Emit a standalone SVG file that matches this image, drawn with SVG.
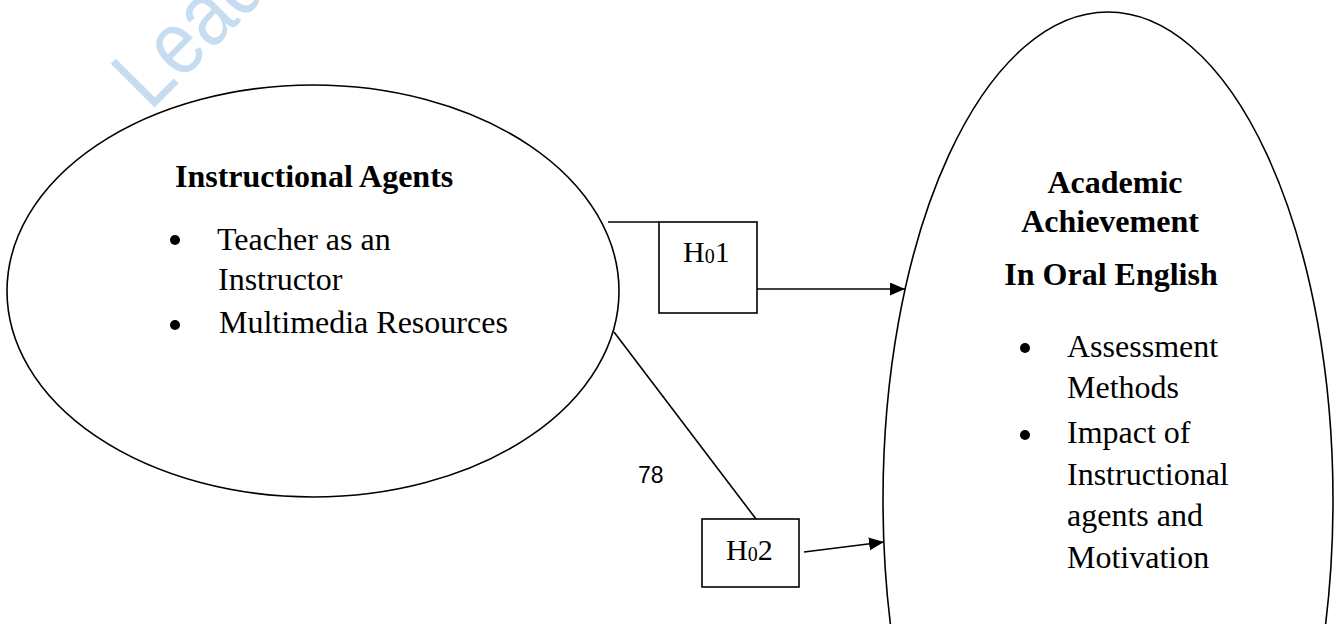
<svg xmlns="http://www.w3.org/2000/svg" width="1343" height="624" viewBox="0 0 1343 624">
<style>
  .shape { fill: none; stroke: #000; stroke-width: 1.6; }
  .box { fill: #fff; stroke: #000; stroke-width: 1.6; }
  .conn { fill: none; stroke: #000; stroke-width: 1.6; }
  .t { font-family: "Liberation Serif", "Times New Roman", serif; font-size: 32px; fill: #000; }
  .b { font-weight: bold; }
  .h { font-family: "Liberation Serif", "Times New Roman", serif; font-size: 30px; fill: #000; }
  .num { font-family: "Liberation Sans", Arial, sans-serif; font-size: 23px; fill: #000; }
  .wm { font-family: "Liberation Sans", Arial, sans-serif; font-size: 90px; fill: #c6dcf0; }
</style>
<defs>
  <marker id="arrow" markerUnits="userSpaceOnUse" markerWidth="15" markerHeight="13" refX="15" refY="6.5" orient="auto">
    <path d="M0,0 L15,6.5 L0,13 z" fill="#000"/>
  </marker>
</defs>
<rect x="0" y="0" width="1343" height="624" fill="#fff"/>
<text class="wm" transform="translate(150,112) rotate(-45) scale(0.86,1)">Lead</text>

<g id="instructional-agents">
  <ellipse class="shape" cx="313" cy="291" rx="306" ry="206"/>
  <text class="t b" x="175" y="187">Instructional Agents</text>
  <circle cx="175" cy="240" r="5"/>
  <text class="t" x="217" y="250">Teacher as an</text>
  <text class="t" x="218" y="290">Instructor</text>
  <circle cx="175" cy="325" r="5"/>
  <text class="t" x="219" y="333">Multimedia Resources</text>
</g>

<g id="academic-achievement">
  <ellipse class="shape" cx="1108" cy="500" rx="225" ry="488"/>
  <text class="t b" x="1115" y="193" text-anchor="middle">Academic</text>
  <text class="t b" x="1110" y="232" text-anchor="middle">Achievement</text>
  <text class="t b" x="1111" y="285" text-anchor="middle">In Oral English</text>
  <circle cx="1025" cy="348" r="5"/>
  <text class="t" x="1067" y="357">Assessment</text>
  <text class="t" x="1067" y="398">Methods</text>
  <circle cx="1025" cy="435" r="5"/>
  <text class="t" x="1067" y="443">Impact of</text>
  <text class="t" x="1067" y="485">Instructional</text>
  <text class="t" x="1067" y="526">agents and</text>
  <text class="t" x="1067" y="568">Motivation</text>
</g>

<g id="connectors">
  <line class="conn" x1="608" y1="222" x2="659" y2="222"/>
  <line class="conn" x1="757" y1="289" x2="905" y2="289" marker-end="url(#arrow)"/>
  <line class="conn" x1="614" y1="332" x2="756" y2="519"/>
  <line class="conn" x1="804" y1="552" x2="884" y2="542" marker-end="url(#arrow)"/>
</g>

<g id="h01">
  <rect class="box" x="659" y="222" width="98" height="91"/>
  <text class="h" x="683" y="262">H<tspan font-size="20" dy="1">0</tspan><tspan dy="-1">1</tspan></text>
</g>

<g id="h02">
  <rect class="box" x="702" y="519" width="97" height="68"/>
  <text class="h" x="726" y="560">H<tspan font-size="20" dy="1">0</tspan><tspan dy="-1">2</tspan></text>
</g>

<text class="num" x="638" y="483">78</text>
</svg>
